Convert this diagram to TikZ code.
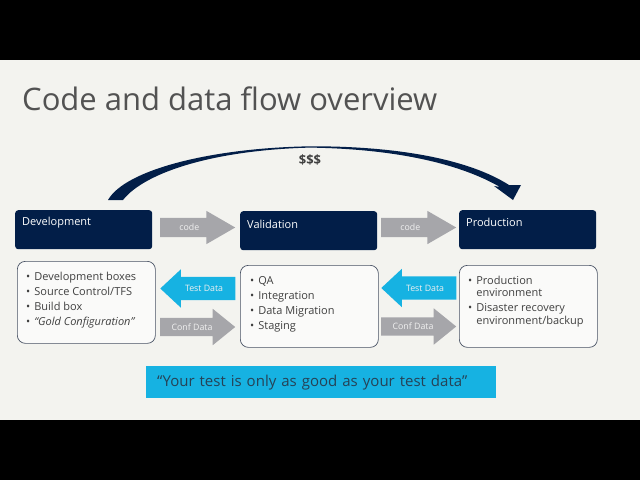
\documentclass[tikz,border=0pt]{standalone}
\usepackage{fontspec}
\setmainfont{Open Sans}
\usetikzlibrary{shapes.arrows, calc, positioning}
\definecolor{slidebg}{RGB}{243,243,239}
\definecolor{navy}{RGB}{2,30,72}
\definecolor{arrowgray}{RGB}{166,166,170}
\definecolor{cyanish}{RGB}{22,178,226}
\definecolor{textgray}{RGB}{64,64,64}
\definecolor{titlegray}{RGB}{82,82,82}
\definecolor{boxline}{RGB}{72,82,100}
\definecolor{quotetext}{RGB}{38,66,86}

\tikzset{
  stagebox/.style={fill=navy, rounded corners=3pt, minimum width=137pt, minimum height=39pt, inner sep=0pt, anchor=north west},
  stagetitle/.style={text=white, font=\fontsize{11}{13}\selectfont, anchor=west, inner sep=0pt},
  listbox/.style={draw=boxline, line width=0.7pt, fill=white!60!slidebg, rounded corners=8pt, minimum width=138pt, minimum height=82pt, inner sep=0pt, anchor=north west},
  listtext/.style={text=textgray, font=\fontsize{11}{15}\selectfont, anchor=north west, inner sep=0pt},
  flowarrow/.style={single arrow, single arrow head indent=0pt, inner xsep=1pt, text height=6pt, text depth=0pt, text=white!94!black, font=\fontsize{8.8}{10}\selectfont, minimum height=75pt},
  codearrow/.style={flowarrow, fill=arrowgray, inner ysep=6.5pt, single arrow head extend=7pt, single arrow tip angle=60, anchor=tail},
  testarrow/.style={flowarrow, fill=cyanish, inner ysep=8.5pt, single arrow head extend=7.5pt, single arrow tip angle=86, shape border rotate=180, anchor=tip},
  confarrow/.style={flowarrow, fill=arrowgray, inner ysep=6pt, single arrow head extend=9pt, single arrow tip angle=78, anchor=tail},
}

\begin{document}
\begin{tikzpicture}[x=1pt, y=-1pt]
  % frame and slide
  \useasboundingbox (0,0) rectangle (640,480);
  \fill[black] (0,0) rectangle (640,480);
  \fill[slidebg] (0,60) rectangle (640,420);

  % title
  \node[anchor=base west, inner sep=0pt, text=titlegray, font=\fontsize{31}{36}\selectfont] (title) at (22,110.5) {Code and data flow overview};

  % stages
  \node[stagebox] (dev) at (15,210) {};
  \node[stagebox] (val) at (240,211) {};
  \node[stagebox] (prod) at (459,210) {};
  \node[stagetitle] (devtitle) at ($(dev.north west)+(7,12.5)$) {Development};
  \node[stagetitle] (valtitle) at ($(val.north west)+(7,13)$) {Validation};
  \node[stagetitle] (prodtitle) at ($(prod.north west)+(7,12.5)$) {Production};

  % lists
  \node[listbox] (devlist) at (17,261) {};
  \node[listbox] (vallist) at (240,265) {};
  \node[listbox] (prodlist) at (459,265) {};
  \node[listtext] (devitems) at ($(devlist.north west)+(9,8.5)$) {%
    \begin{tabular}{@{}l@{\hspace{4pt}}l@{}}
      • & Development boxes\\
      • & Source Control/TFS\\
      • & Build box\\
      • & \textit{“Gold Configuration”}
    \end{tabular}};
  \node[listtext] (valitems) at ($(vallist.north west)+(10,8.5)$) {%
    \begin{tabular}{@{}l@{\hspace{4pt}}l@{}}
      • & QA\\
      • & Integration\\
      • & Data Migration\\
      • & Staging
    \end{tabular}};
  \node[listtext, font=\fontsize{11}{12.7}\selectfont] (proditems) at ($(prodlist.north west)+(9,10)$) {%
    \begin{tabular}{@{}l@{\hspace{4pt}}l@{}}
      • & Production\\
        & environment\\[2.3pt]
      • & Disaster recovery\\
        & environment/backup
    \end{tabular}};

  % block arrows between stages
  \node[codearrow] (code1) at (160,227.5) {code};
  \node[codearrow] (code2) at (381,227.5) {code};
  \node[testarrow] (test1) at (160,288.5) {Test Data};
  \node[testarrow] (test2) at (381,288) {Test Data};
  \node[confarrow] (conf1) at (160,327) {Conf Data};
  \node[confarrow] (conf2) at (381,326.5) {Conf Data};

  % swoosh from development to production
  \coordinate (swooshfoot) at ($(dev.north west)+(93,-10)$);
  \coordinate (swooshtip) at ($(prod.north west)+(54,-10)$);
  \fill[navy] (swooshfoot) .. controls (125,170) and (210,148) .. (310,146.3)
    .. controls (400,146) and (470,160) .. (509,185) -- (521,185) -- (swooshtip)
    -- (494,186) -- (500,187) .. controls (462,165) and (400,149) .. (310,147.6)
    .. controls (215,150) and (145,172) .. ($(swooshfoot)+(15,0)$) -- cycle;
  \node[text=textgray, font=\fontsize{13}{15}\selectfont\bfseries] (cost) at (310,160) {\$\$\$};

  % quote
  \node[fill=cyanish, anchor=north west, minimum height=32pt, text width=328pt, inner xsep=11pt, inner ysep=0pt, align=left, text=quotetext, font=\fontsize{15}{18}\selectfont] (quote) at (146,366) {“Your test is only as good as your test data”};
\end{tikzpicture}
\end{document}
